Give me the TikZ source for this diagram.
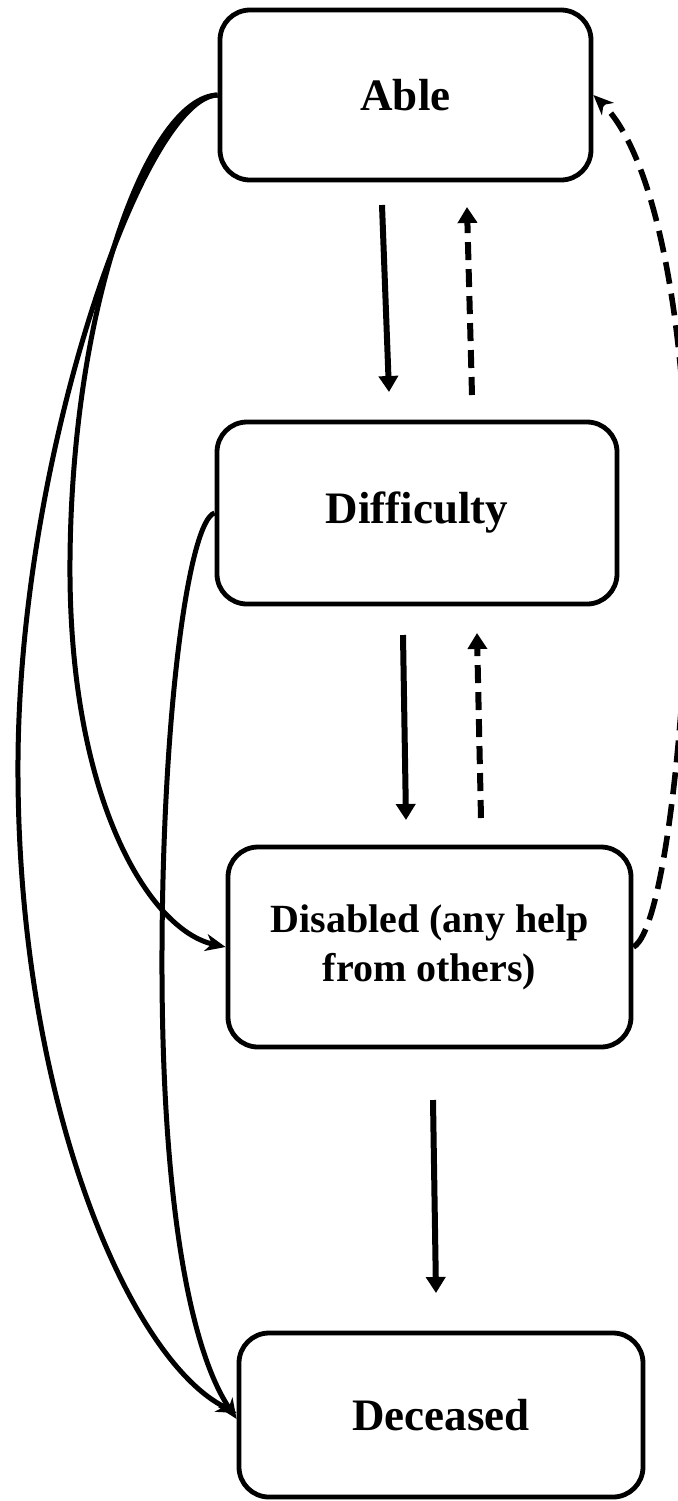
\documentclass[tikz,border=0pt]{standalone}
\usepackage{fontspec}
\setmainfont{Liberation Serif}
\usetikzlibrary{arrows.meta}
\begin{document}
\begin{tikzpicture}[x=0.5pt,y=-0.5pt,
  box/.style={draw, line width=2.4pt, rounded corners=15pt, inner sep=0pt, align=center,
    font=\bfseries\fontsize{22.5}{27}\selectfont},
  smallbox/.style={box, font=\bfseries\fontsize{20}{24.5}\selectfont},
  flow/.style={line width=3pt, -{Triangle[length=8pt,width=9.5pt]}},
  backflow/.style={flow, dash pattern=on 9pt off 4.5pt},
  curve/.style={line width=2.5pt, -{Stealth[length=10pt,width=8.5pt,inset=3pt]}},
  backcurve/.style={curve, line width=2.8pt, dash pattern=on 11pt off 5pt}]
\useasboundingbox (0,0) rectangle (678,1501);

\node[box, minimum width=185.5pt, minimum height=85pt] (able) at (405.5,95) {Able};
\node[box, minimum width=200pt, minimum height=91pt] (diff) at (417,513) {Difficulty};
\node[smallbox, minimum width=201.5pt, minimum height=100pt] (dis) at (429.5,947) {Disabled (any help\\from others)};
\node[box, minimum width=202pt, minimum height=82pt] (dec) at (441,1415) {Deceased};

\coordinate (ad1) at (382,205);  \coordinate (ad2) at (389,392);
\coordinate (da1) at (472,395);  \coordinate (da2) at (467,207);
\coordinate (ds1) at (403,635);  \coordinate (ds2) at (406,820);
\coordinate (sd1) at (481,818);  \coordinate (sd2) at (477,633);
\coordinate (sc1) at (433,1100); \coordinate (sc2) at (436,1293);

\draw[flow] (ad1) -- (ad2);
\draw[backflow] (da1) -- (da2);
\draw[flow] (ds1) -- (ds2);
\draw[backflow] (sd1) -- (sd2);
\draw[flow] (sc1) -- (sc2);

% Able -> Disabled
\draw[curve] (able.west) .. controls (150,97) and (72,300) .. (70,560)
  .. controls (68,800) and (150,930) .. (dis.west);
% Able -> Deceased
\draw[curve] (able.west) .. controls (145,97) and (20,450) .. (18,760)
  .. controls (16,1100) and (130,1360) .. ([yshift=1pt]dec.west);
% Difficulty -> Deceased
\draw[curve] (diff.west) .. controls (190,520) and (163,700) .. (162,950)
  .. controls (161,1200) and (190,1350) .. ([yshift=-2pt]dec.west);
% Disabled -> Able (dashed)
\draw[backcurve] (dis.east) .. controls (665,930) and (688,700) .. (688,540)
  .. controls (688,300) and (650,150) .. (able.east);
\end{tikzpicture}
\end{document}
